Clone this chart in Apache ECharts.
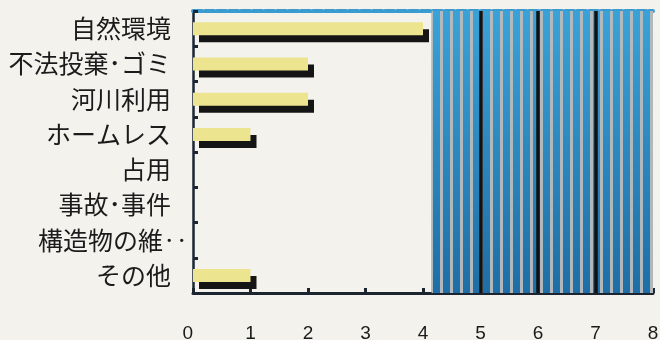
<!DOCTYPE html>
<html>
<head>
<meta charset="utf-8">
<script src="https://cdn.jsdelivr.net/npm/echarts@6/dist/echarts.min.js"></script>
<style>
  html, body { margin: 0; padding: 0; background: #f3f2ed; }
  #chart { width: 660px; height: 340px; }
</style>
</head>
<body>
<div id="chart"></div>
<script>
// Category names (top to bottom) and their counts
const categories = ['自然環境', '不法投棄･ゴミ', '河川利用', 'ホームレス', '占用', '事故･事件', '構造物の維‥', 'その他'];
const counts = [4, 2, 2, 1, 0, 0, 0, 1];
// Value-axis ticks
const xTicks = [0, 1, 2, 3, 4, 5, 6, 7, 8];
// Shaded band on the value axis and the heavy rules inside it
const shadedRange = [4.15, 8];
const heavyRules = [5, 6, 7];

// Vertical grey pin-stripes laid over the blue band
function stripePattern() {
  const c = document.createElement('canvas');
  c.width = 10; c.height = 4;
  const g = c.getContext('2d');
  g.fillStyle = 'rgba(184,186,188,0.95)';
  g.fillRect(0, 0, 3, 4);
  return { image: c, repeat: 'repeat' };
}

const chart = echarts.init(document.getElementById('chart'), null, { renderer: 'canvas' });

// A truncated name lets its ellipsis hang past the right edge of the label column
const yData = categories.map(name => name.endsWith('‥')
  ? { value: name, textStyle: { padding: [0, -17, 0, 0] } }
  : name);

// Zero counts draw no bar body and no drop shadow
const barData = counts.map(v => v === 0
  ? { value: v, itemStyle: { shadowColor: 'transparent', color: 'transparent' } }
  : v);

chart.setOption({
  backgroundColor: '#f3f2ed',
  animation: false,
  grid: { left: 193, right: 7, top: 11, bottom: 47, outerBoundsMode: 'none' },
  xAxis: [{
    type: 'value', min: xTicks[0], max: xTicks[xTicks.length - 1], interval: 1,
    axisLine: { show: true, lineStyle: { color: '#1c2430', width: 3 } },
    axisTick: { show: true, inside: true, length: 5, lineStyle: { color: '#1c2430', width: 3 } },
    axisLabel: {
      margin: 31, fontSize: 19, color: '#1a1a1a',
      fontFamily: "'Liberation Sans Narrow', 'Liberation Sans', sans-serif",
      alignMinLabel: 'right'
    },
    splitLine: { show: false }
  }, {
    type: 'value', position: 'top', min: xTicks[0], max: xTicks[xTicks.length - 1],
    axisLine: { show: true, lineStyle: { color: '#3b9bd0', width: 4, type: [9, 3] } },
    axisTick: { show: false }, axisLabel: { show: false }, splitLine: { show: false }
  }],
  yAxis: {
    type: 'category', data: yData, inverse: true,
    axisLine: { show: true, lineStyle: { color: '#1a2633', width: 2.5 } },
    axisTick: { show: true, inside: true, length: 5, lineStyle: { color: '#1a2633', width: 3 } },
    axisLabel: {
      margin: 22, fontSize: 25, color: '#1b1b1b', fontFamily: 'Noto Sans CJK JP'
    }
  },
  series: [{
    type: 'bar', data: barData, barWidth: 13,
    itemStyle: {
      color: '#ece48f', borderWidth: 0,
      shadowColor: '#151515', shadowOffsetX: 6, shadowOffsetY: 7, shadowBlur: 0
    },
    markArea: {
      silent: true,
      data: [
        [{ xAxis: shadedRange[0], itemStyle: { color: {
            type: 'linear', x: 0, y: 0, x2: 0, y2: 1,
            colorStops: [{ offset: 0, color: '#3aa2d8' }, { offset: 1, color: '#1d6ea6' }] } } },
         { xAxis: shadedRange[1] }],
        [{ xAxis: shadedRange[0], itemStyle: { color: stripePattern() } },
         { xAxis: shadedRange[1] }]
      ]
    },
    markLine: {
      silent: true, symbol: 'none', label: { show: false },
      lineStyle: { color: '#111', width: 3.5, type: 'solid' },
      data: heavyRules.map(v => ({ xAxis: v }))
    }
  }]
});
</script>
</body>
</html>
